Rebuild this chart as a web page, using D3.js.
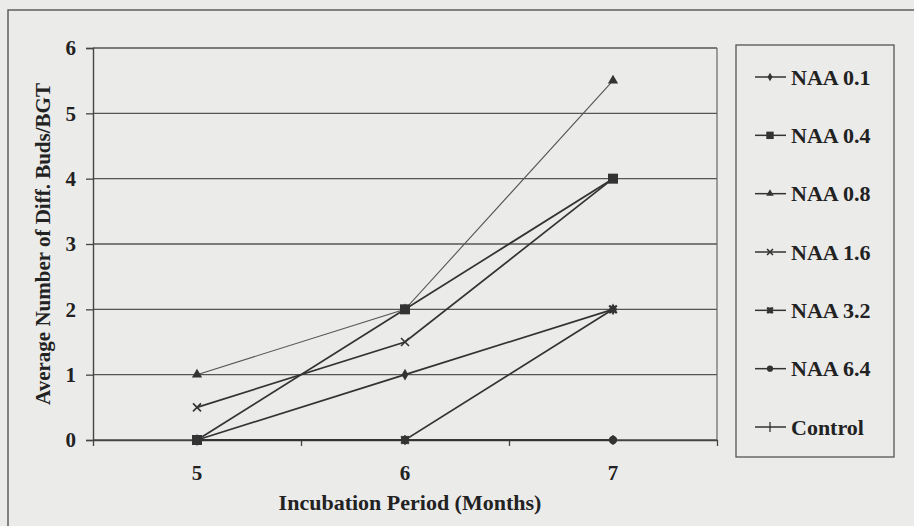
<!DOCTYPE html>
<html>
<head>
<meta charset="utf-8">
<script src="https://cdn.jsdelivr.net/npm/d3@7"></script>
<style>
  body { margin: 0; background: #ebebea; }
  svg text { font-family: "Liberation Serif", "Times New Roman", serif; font-weight: bold; fill: #222; }
</style>
</head>
<body>
<div class="chart"></div>
<script>
// Average number of differentiated buds per BGT, by NAA concentration

var months = ['5', '6', '7'];
var seriesNames = ['NAA 0.1', 'NAA 0.4', 'NAA 0.8', 'NAA 1.6', 'NAA 3.2', 'NAA 6.4', 'Control'];
var naa01 = [0, 1, 2];
var naa04 = [0, 2, 4];
var naa08 = [1, 2, 5.5];
var naa16 = [0.5, 1.5, 4];
var naa32 = [0, 0, 2];
var naa64 = [0, 0, 0];
var control = [0, 0, 0];
var yTicks = [0, 1, 2, 3, 4, 5, 6];

var allValues = [naa01, naa04, naa08, naa16, naa32, naa64, control];
var markerKinds = ['diamond', 'square', 'triangle', 'x', 'star', 'circle', 'plus'];

var width = 914, height = 526;
var plot = { left: 93, right: 717, top: 48, bottom: 440 };
var ink = '#333';

var svg = d3.select('.chart').append('svg')
  .attr('width', width)
  .attr('height', height);

// outer frame of the chart (runs off the page on the right and bottom)
svg.append('rect')
  .attr('x', 8).attr('y', 10)
  .attr('width', 940).attr('height', 560)
  .attr('fill', 'none')
  .attr('stroke', '#555')
  .attr('stroke-width', 1.4);

var x = d3.scaleBand().domain(months).range([plot.left, plot.right]);
var xEdges = d3.scaleLinear().domain([0, months.length]).range([plot.left, plot.right]);
var y = d3.scaleLinear().domain([0, 6]).range([plot.bottom, plot.top]);

// horizontal gridlines
svg.append('g')
  .selectAll('line')
  .data(yTicks)
  .enter()
  .append('line')
    .attr('x1', plot.left)
    .attr('x2', plot.right)
    .attr('y1', function(d) { return y(d); })
    .attr('y2', function(d) { return y(d); })
    .attr('stroke', '#555')
    .attr('stroke-width', 1.3);

// right border of plot area
svg.append('line')
  .attr('x1', plot.right).attr('x2', plot.right)
  .attr('y1', plot.top).attr('y2', plot.bottom)
  .attr('stroke', '#666').attr('stroke-width', 1.2);

// y axis
var yAxis = svg.append('g')
  .attr('transform', 'translate(' + plot.left + ',0)')
  .call(d3.axisLeft(y).tickValues(yTicks).tickFormat(d3.format('d')).tickSize(7).tickPadding(10));
yAxis.select('.domain').attr('stroke', '#444').attr('stroke-width', 1.4);
yAxis.selectAll('.tick line').attr('stroke', '#444').attr('stroke-width', 1.3);
yAxis.selectAll('text').attr('font-size', 21).attr('fill', '#222');

// x axis: tick marks sit between the categories
var xTickAxis = svg.append('g')
  .attr('transform', 'translate(0,' + plot.bottom + ')')
  .call(d3.axisBottom(xEdges).tickValues([0, 1, 2, 3]).tickFormat('').tickSize(6).tickSizeOuter(0));
xTickAxis.select('.domain').attr('stroke', '#444').attr('stroke-width', 1.4);
xTickAxis.selectAll('.tick line').attr('stroke', '#444').attr('stroke-width', 1.3);

var xAxis = svg.append('g')
  .attr('transform', 'translate(0,' + plot.bottom + ')')
  .call(d3.axisBottom(x).tickSize(0).tickPadding(25));
xAxis.select('.domain').remove();
xAxis.selectAll('text').attr('font-size', 21).attr('fill', '#222');

// axis titles
svg.append('text')
  .attr('x', 410)
  .attr('y', 510)
  .attr('text-anchor', 'middle')
  .attr('font-size', 22)
  .text('Incubation Period (Months)');

svg.append('text')
  .attr('transform', 'translate(50,244) rotate(-90)')
  .attr('text-anchor', 'middle')
  .attr('font-size', 21)
  .text('Average Number of Diff. Buds/BGT');

// marker shapes
var drawMarker = function(g, kind, size) {
  var s = size || 1;
  if (kind === 'diamond') {
    g.append('path').attr('d', d3.symbol().type(d3.symbolDiamond).size(40 * s)).attr('fill', ink);
  } else if (kind === 'square') {
    g.append('path').attr('d', d3.symbol().type(d3.symbolSquare).size(100 * s)).attr('fill', ink);
  } else if (kind === 'triangle') {
    g.append('path').attr('d', d3.symbol().type(d3.symbolTriangle).size(45 * s)).attr('fill', ink);
  } else if (kind === 'circle') {
    g.append('path').attr('d', d3.symbol().type(d3.symbolCircle).size(55 * s)).attr('fill', ink);
  } else if (kind === 'x') {
    var r = 4 * Math.sqrt(s);
    g.append('path').attr('d', 'M' + -r + ',' + -r + 'L' + r + ',' + r + 'M' + -r + ',' + r + 'L' + r + ',' + -r)
      .attr('stroke', ink).attr('stroke-width', 1.6).attr('fill', 'none');
  } else if (kind === 'star') {
    var q = 3.8 * Math.sqrt(s);
    g.append('path').attr('d', 'M' + -q + ',' + -q + 'L' + q + ',' + q + 'M' + -q + ',' + q + 'L' + q + ',' + -q + 'M0,' + -q + 'L0,' + q + 'M' + -q + ',0L' + q + ',0')
      .attr('stroke', ink).attr('stroke-width', 2.2).attr('fill', 'none');
  } else if (kind === 'plus') {
    g.append('path').attr('d', 'M0,-5L0,5').attr('stroke', ink).attr('stroke-width', 1.3).attr('fill', 'none');
  }
};

var line = d3.line()
  .x(function(d, i) { return x(months[i]) + x.bandwidth() / 2; })
  .y(function(d) { return y(d); });

// draw from last series to first so the first ones land on top
var order = d3.range(seriesNames.length).reverse();
order.forEach(function(k) {
  var vals = allValues[k];
  svg.append('path')
    .datum(vals)
    .attr('d', line)
    .attr('fill', 'none')
    .attr('stroke', k === 2 ? '#555' : ink)
    .attr('stroke-width', k === 2 ? 1.1 : 1.7);

  svg.append('g')
    .selectAll('g')
    .data(vals)
    .enter()
    .append('g')
      .attr('transform', function(d, i) {
        return 'translate(' + (x(months[i]) + x.bandwidth() / 2) + ',' + y(d) + ')';
      })
      .each(function() { drawMarker(d3.select(this), markerKinds[k]); });
});

// legend
var legend = svg.append('g');
legend.append('rect')
  .attr('x', 736).attr('y', 45)
  .attr('width', 158).attr('height', 412)
  .attr('fill', 'none')
  .attr('stroke', '#555')
  .attr('stroke-width', 1.3);

var legendY = d3.scalePoint().domain(seriesNames).range([77, 427]);

var items = legend.selectAll('g.item')
  .data(seriesNames)
  .enter()
  .append('g')
    .attr('class', 'item')
    .attr('transform', function(d) { return 'translate(0,' + legendY(d) + ')'; });

items.append('line')
  .attr('x1', 755).attr('x2', 786)
  .attr('stroke', ink).attr('stroke-width', 1.5);

items.each(function(d, i) {
  var g = d3.select(this).append('g').attr('transform', 'translate(770,0)');
  drawMarker(g, markerKinds[i], 0.55);
});

items.append('text')
  .attr('x', 791)
  .attr('dy', '0.35em')
  .attr('font-size', 22)
  .text(function(d) { return d; });
</script>
</body>
</html>
